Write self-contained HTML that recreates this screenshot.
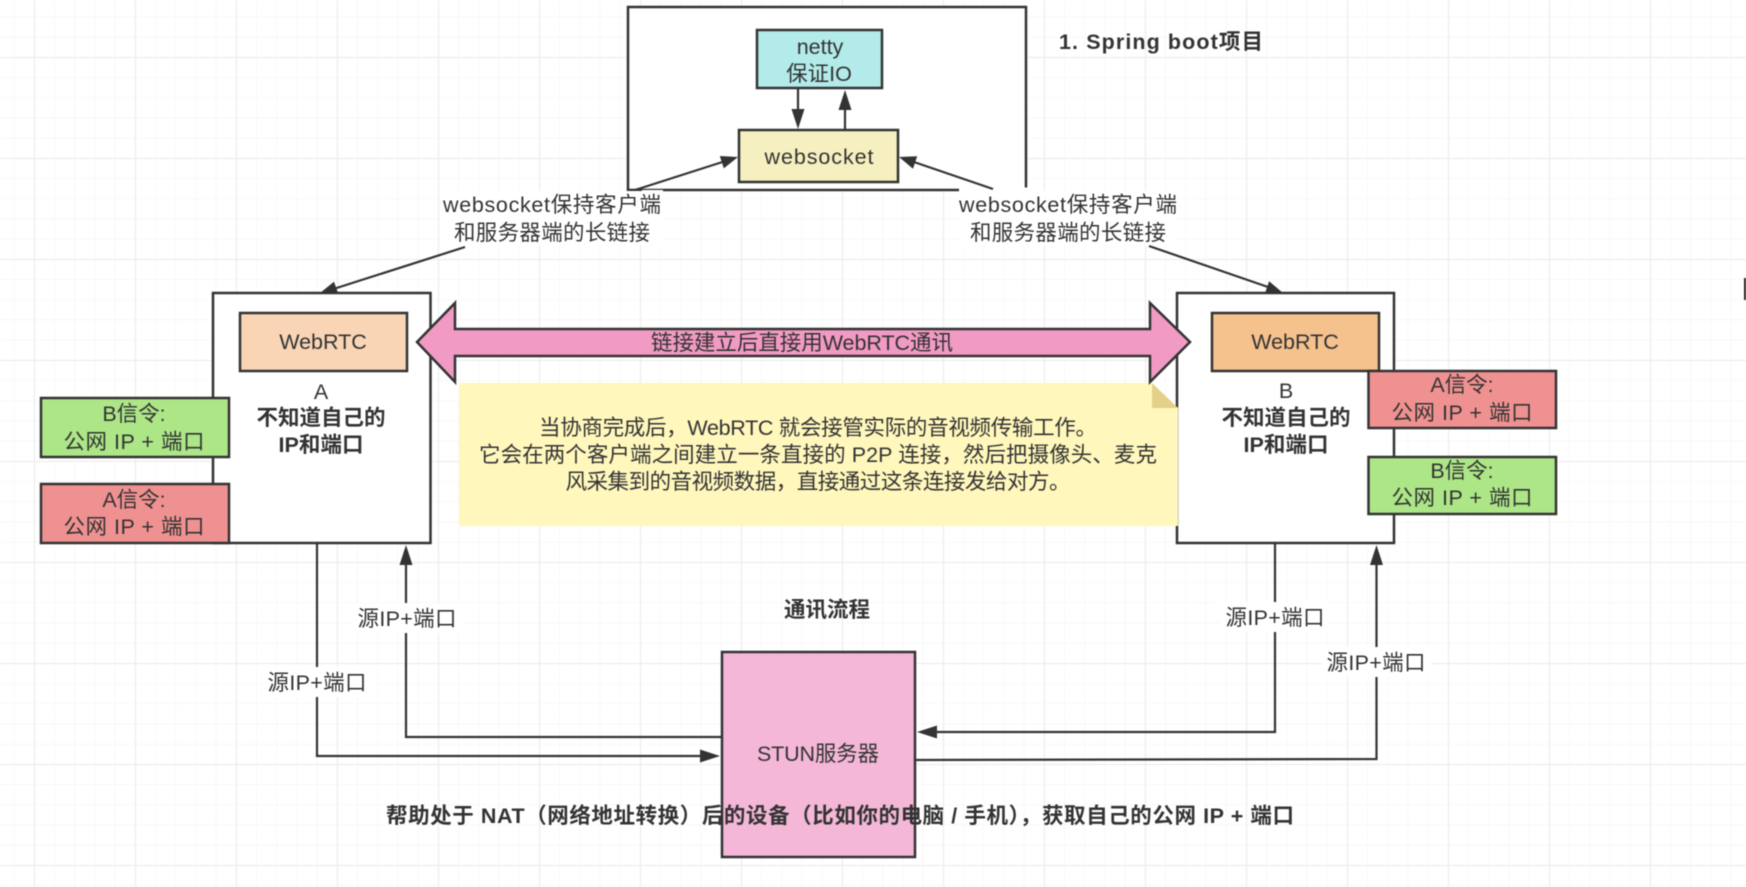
<!DOCTYPE html>
<html lang="zh-CN"><head><meta charset="utf-8"><title>WebRTC 通讯流程</title>
<style>
html,body{margin:0;padding:0;background:#fff;width:1746px;height:887px;overflow:hidden}
svg{display:block;filter:blur(.45px)}
text{font-family:"Liberation Sans","Noto Sans CJK SC",sans-serif;font-size:21.5px;fill:#333;text-anchor:middle;dominant-baseline:central}
.b{font-weight:bold}
.r{stroke:#333;stroke-width:2.5}
.l{fill:none;stroke:#333;stroke-width:2.2}
.h{fill:#333;stroke:none}
</style></head><body>
<svg xmlns="http://www.w3.org/2000/svg" width="1746" height="887" viewBox="0 0 1746 887">
<defs>
<pattern id="m" x="34" y="57" width="20.2" height="20.2" patternUnits="userSpaceOnUse"><path d="M0 0H20.2M0 0V20.2" stroke="#f3f3f3" stroke-width="1.2" fill="none"/></pattern>
<pattern id="M" x="34" y="57" width="101" height="101" patternUnits="userSpaceOnUse"><path d="M0 0H101M0 0V101" stroke="#ebebeb" stroke-width="2" fill="none"/></pattern>
</defs>
<rect width="1746" height="887" fill="#fff"/>
<rect width="1746" height="887" fill="url(#m)"/>
<rect width="1746" height="887" fill="url(#M)"/>

<!-- server frame -->
<rect x="628" y="7" width="398" height="183" fill="#fff" class="r"/>
<rect x="757" y="30" width="125" height="58" fill="#b2ebe9" class="r"/>
<text x="820" y="47">netty</text>
<text x="819" y="74">保证IO</text>
<rect x="739" y="130" width="159" height="52" fill="#f6efc0" class="r"/>
<text x="819" y="157" textLength="109">websocket</text>
<path class="l" d="M798 88V112M845 130V108"/>
<polygon class="h" points="798,129 791.500,109 804.500,109"/>
<polygon class="h" points="845,90 838.500,110 851.500,110"/>

<!-- label backgrounds over the frame -->
<rect x="440" y="191" width="222" height="54" fill="#fff"/>
<rect x="959" y="191" width="218" height="54" fill="#fff"/>
<rect x="642" y="190" width="21" height="2" fill="#fff"/>
<rect x="959" y="187.500" width="70" height="5" fill="#fff"/>
<path class="l" d="M635 190L724 161.500M993 189L914 162"/>
<polygon class="h" points="738,157 723.800,168.400 719.800,156"/>
<polygon class="h" points="899,157 917.200,156.300 913,168.700"/>
<text x="552" y="205" textLength="218">websocket保持客户端</text>
<text x="552" y="233" textLength="196">和服务器端的长链接</text>
<text x="1068" y="205" textLength="218">websocket保持客户端</text>
<text x="1068" y="233" textLength="196">和服务器端的长链接</text>

<!-- A box -->
<rect x="213" y="293" width="217.500" height="250" fill="#fff" class="r"/>
<rect x="240" y="313" width="167" height="58" fill="#f9d5b6" class="r"/>
<text x="323" y="342">WebRTC</text>
<text x="321" y="392">A</text>
<text x="321" y="418" class="b" textLength="129">不知道自己的</text>
<text x="321" y="445" class="b" textLength="85">IP和端口</text>
<rect x="41" y="398" width="188" height="59" fill="#ace687" class="r"/>
<text x="134" y="414">B信令:</text>
<text x="134" y="442" textLength="141">公网 IP + 端口</text>
<rect x="41" y="484" width="188" height="59" fill="#f09191" class="r"/>
<text x="134" y="500">A信令:</text>
<text x="134" y="527" textLength="141">公网 IP + 端口</text>

<!-- B box -->
<rect x="1177" y="293" width="217" height="250" fill="#fff" class="r"/>
<rect x="1212" y="313" width="167" height="58" fill="#f5c28d" class="r"/>
<text x="1295" y="342">WebRTC</text>
<text x="1286" y="391">B</text>
<text x="1286" y="418" class="b" textLength="129">不知道自己的</text>
<text x="1286" y="445" class="b" textLength="85">IP和端口</text>
<rect x="1368.500" y="371" width="187.500" height="57" fill="#f09191" class="r"/>
<text x="1462" y="385">A信令:</text>
<text x="1462" y="413" textLength="141">公网 IP + 端口</text>
<rect x="1368.500" y="457" width="187.500" height="57" fill="#ace687" class="r"/>
<text x="1462" y="471">B信令:</text>
<text x="1462" y="498" textLength="141">公网 IP + 端口</text>

<!-- arrows into A and B -->
<path class="l" d="M465 247L335 288.500M1149 246L1268 287"/>
<polygon class="h" points="320,293 338,293 334,281.800"/>
<polygon class="h" points="1283,293 1264.900,293.500 1269.100,281.300"/>

<!-- note -->
<polygon points="459,383 1152,383 1178,408 1178,526 459,526" fill="#fff7bc"/>
<polygon points="1152,383 1178,408 1152,408" fill="#e4d088"/>
<text x="818" y="428" textLength="558">当协商完成后，WebRTC 就会接管实际的音视频传输工作。</text>
<text x="818" y="455" textLength="678">它会在两个客户端之间建立一条直接的 P2P 连接，然后把摄像头、麦克</text>
<text x="818" y="482" textLength="505">风采集到的音视频数据，直接通过这条连接发给对方。</text>

<!-- double arrow -->
<polygon points="417,342 455,303 455,329 1150,329 1150,303 1190,342 1150,382 1150,356 455,356 455,382" fill="#f19ac4" class="r"/>
<text x="802" y="343" textLength="302">链接建立后直接用WebRTC通讯</text>

<!-- STUN -->
<rect x="722" y="652" width="193" height="205" fill="#f4b7d8" class="r"/>
<text x="818" y="754" textLength="122">STUN服务器</text>

<!-- STUN connectors -->
<path class="l" d="M317 543V756H704"/>
<path class="l" d="M406 558V737H722"/>
<path class="l" d="M1275 543V732H932"/>
<path class="l" d="M915 760L1376.500 759V558"/>
<polygon class="h" points="720,756 700,749.500 700,762.500"/>
<polygon class="h" points="406,545 399.500,565 412.500,565"/>
<polygon class="h" points="917,732 937,725.500 937,738.500"/>
<polygon class="h" points="1376.500,545 1370,565 1383,565"/>

<!-- connector labels -->
<rect x="352" y="603" width="110" height="30" fill="#fff"/>
<text x="407" y="619" textLength="99">源IP+端口</text>
<rect x="262" y="667" width="110" height="30" fill="#fff"/>
<text x="317" y="683" textLength="99">源IP+端口</text>
<rect x="1220" y="602" width="110" height="30" fill="#fff"/>
<text x="1275" y="618" textLength="99">源IP+端口</text>
<rect x="1321" y="647" width="110" height="30" fill="#fff"/>
<text x="1376" y="663" textLength="99">源IP+端口</text>

<!-- titles -->
<text x="827" y="610" class="b" textLength="86">通讯流程</text>
<text x="1161" y="42" class="b" textLength="204">1.  Spring boot项目</text>
<text x="840" y="816" class="b" textLength="908">帮助处于 NAT（网络地址转换）后的设备（比如你的电脑 / 手机），获取自己的公网 IP + 端口</text>

<!-- stray cursor mark -->
<rect x="1744" y="278" width="2" height="22" fill="#222"/>
</svg>
</body></html>
